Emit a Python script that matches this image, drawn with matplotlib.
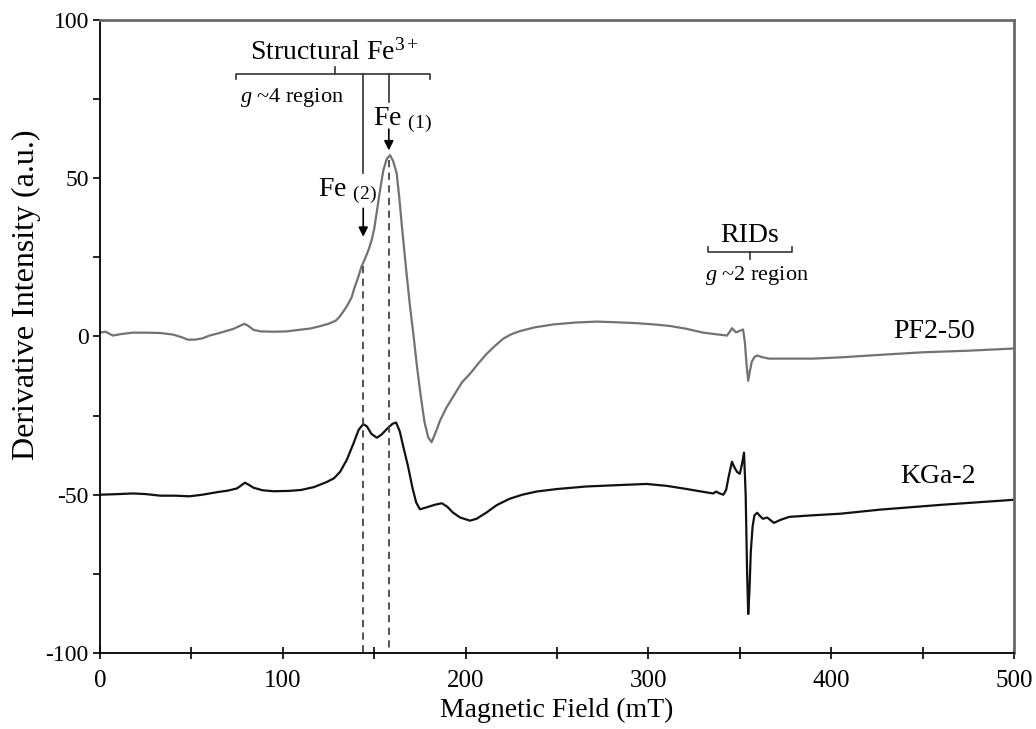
import numpy as np
import matplotlib
matplotlib.use('Agg')
import matplotlib.pyplot as plt

plt.rcParams['font.family'] = ['Liberation Serif', 'DejaVu Serif']
plt.rcParams['mathtext.fontset'] = 'custom'
plt.rcParams['mathtext.rm'] = 'Liberation Serif'
plt.rcParams['mathtext.it'] = 'Liberation Serif:italic'

# PF2-50 (grey) spectrum
pf_field = [0, 3, 7, 12, 18, 25, 33, 40, 45, 48, 52, 56, 60, 66, 73, 76, 79, 81, 84, 88,
            95, 102, 109, 115, 120, 125, 129, 131, 133, 135, 137.7, 139, 141.3, 143, 145,
            147, 148.6, 150, 151.3, 153.2, 155, 156.8, 158.6, 160.3, 162.3, 163.7, 165,
            167.7, 169.5, 171.4, 173.5, 175.5, 177.5, 179.5, 181.4, 183.5, 186, 189.5, 193,
            198, 202.4, 207, 211.5, 216, 220.6, 225, 229.7, 238, 248, 260, 271.7, 282,
            293.6, 303, 312, 321, 330, 337, 343, 344.5, 345.7, 347, 348, 350, 351.8, 352.8,
            353.7, 354.6, 355.5, 356.5, 358, 359.5, 362, 366, 375, 390, 405, 427, 450, 475,
            500]
pf_int = [1.2, 1.5, 0.3, 0.8, 1.2, 1.2, 1.1, 0.6, -0.3, -1.0, -1.0, -0.6, 0.3, 1.2, 2.4,
          3.2, 4.0, 3.4, 2.1, 1.6, 1.5, 1.6, 2.1, 2.5, 3.2, 4.0, 5.0, 6.2, 7.8, 9.5, 12.4,
          15, 18.8, 22, 24.6, 27.5, 30.4, 34, 38.9, 46.2, 52.5, 56, 57.3, 55.5, 51.6, 44,
          35.8, 19.9, 10, 0.9, -10, -19, -27, -31.8, -33.4, -30.5, -26.6, -22.5, -19.2,
          -14.5, -11.8, -8.5, -5.5, -3, -0.7, 0.7, 1.7, 2.9, 3.8, 4.4, 4.7, 4.5, 4.2, 3.8,
          3.3, 2.4, 1.2, 0.7, 0.3, 1.5, 2.6, 1.8, 1.3, 1.8, 2.2, -2, -9, -14, -11, -8,
          -6.5, -6, -6.5, -7, -7, -7, -6.6, -5.8, -5.0, -4.5, -3.8]

# KGa-2 (black) spectrum
kg_field = [0, 10, 18, 25, 33, 41, 49, 56, 64, 70, 75, 79.3, 81.5, 84, 89, 95, 103, 110,
            117, 124, 128, 131.3, 135, 138.6, 141.5, 144, 146, 148.5, 151.5, 154, 157, 160,
            162, 164, 166, 168.5, 171, 173, 175, 178.6, 183, 187, 190, 193, 197, 202.4, 206,
            211.5, 217, 224, 231, 238.8, 250, 266, 282, 299, 310, 321, 329, 335.5, 337, 339,
            341, 342.5, 344, 345.7, 347, 348.5, 350, 351.3, 352.3, 353.2, 354, 354.6, 355.3,
            356, 357, 358, 359.5, 361, 362.6, 365, 366.7, 368.7, 372, 377, 390, 405, 427,
            460, 500]
kg_int = [-50.0, -49.8, -49.6, -49.8, -50.3, -50.3, -50.5, -50.0, -49.2, -48.7, -48.0,
          -46.2, -46.9, -47.8, -48.6, -48.9, -48.8, -48.5, -47.6, -46, -44.8, -42.8, -39,
          -33.9, -29.5, -27.7, -28.4, -30.8, -32, -31, -29.2, -27.6, -27.2, -30, -35, -41,
          -48, -52.5, -54.6, -54, -53.2, -52.7, -53.8, -55.6, -57.2, -58.2, -57.6, -55.6,
          -53.3, -51.3, -50, -49, -48.2, -47.4, -47, -46.6, -47.2, -48.2, -49, -49.6, -49,
          -49.6, -50, -48.5, -44, -39.6, -41.3, -42.8, -43.4, -40, -36.7, -50, -75, -87.7,
          -80, -68, -60, -56.5, -55.7, -56.7, -57.6, -57.2, -58, -58.9, -58, -57, -56.5,
          -56, -54.7, -53.2, -51.6]

fe2_field = 144
fe1_field = 158

fig = plt.figure(figsize=(10.36, 7.29), dpi=100)
ax = fig.add_axes([0.0965, 0.1043, 0.8823, 0.8683])

ax.plot(pf_field, pf_int, color='#727272', lw=1.6, solid_joinstyle='round')
ax.plot(kg_field, kg_int, color='#111111', lw=1.6, solid_joinstyle='round')

# dashed guides from the grey curve down to the axis
for fx in (fe2_field, fe1_field):
    top = np.interp(fx, pf_field, pf_int)
    ax.plot([fx, fx], [top - 1, -100], color='#444444', lw=1.3, ls=(0, (4, 3)))

ax.set_xlim(0, 500)
ax.set_ylim(-100, 100)
ax.set_xticks(range(0, 501, 100))
ax.set_xticks(range(50, 500, 100), minor=True)
ax.set_yticks(range(-100, 101, 50))
ax.set_yticks(range(-75, 100, 50), minor=True)
ax.set_yticklabels(['-100', '-50', '0', '50', '100'])
ax.tick_params(axis='x', which='both', direction='inout', length=9, width=1.2, labelsize=18, pad=8)
ax.tick_params(axis='y', which='both', direction='out', length=5, width=1.2, labelsize=17, pad=3)

for s in ('left', 'bottom'):
    ax.spines[s].set_color('black')
    ax.spines[s].set_linewidth(1.3)
for s in ('top', 'right'):
    ax.spines[s].set_color('#6a6a6a')
    ax.spines[s].set_linewidth(2)

ax.set_xlabel('Magnetic Field (mT)', fontsize=20, labelpad=4)
ax.set_ylabel('Derivative Intensity (a.u.)', fontsize=23)
ax.yaxis.set_label_coords(-0.065, 0.566)

lc = '#333333'
# Structural Fe3+ bracket
ax.plot([74.4, 74.4, 180.5, 180.5], [81.5, 82.9, 82.9, 81.5], color=lc, lw=1.2)
ax.plot([128.3, 128.3], [82.9, 85.2], color=lc, lw=1.2)
ax.text(128.3, 85.6, 'Structural Fe$^{3+}$', fontsize=20, ha='center', va='bottom')
ax.text(76.5, 75.5, '$g$ ~4 region', fontsize=16, ha='left', va='center')

# Fe(2) arrow
ax.plot([fe2_field, fe2_field], [82.9, 51.5], color=lc, lw=1.2)
ax.text(119.3, 45.8, 'Fe $_{(2)}$', fontsize=20, ha='left', va='center')
ax.annotate('', xy=(fe2_field, 31.5), xytext=(fe2_field, 40.5),
            arrowprops=dict(arrowstyle='-|>', color='black', lw=1.2, mutation_scale=14,
                            shrinkA=0, shrinkB=0))
# Fe(1) arrow
ax.plot([fe1_field, fe1_field], [82.9, 74], color=lc, lw=1.2)
ax.text(149.3, 68.3, 'Fe $_{(1)}$', fontsize=20, ha='left', va='center')
ax.annotate('', xy=(fe1_field, 58.8), xytext=(fe1_field, 65.5),
            arrowprops=dict(arrowstyle='-|>', color='black', lw=1.2, mutation_scale=14,
                            shrinkA=0, shrinkB=0))

# RIDs bracket
ax.plot([332.6, 332.6, 378.6, 378.6], [28.2, 26.7, 26.7, 28.2], color=lc, lw=1.2)
ax.plot([355.6, 355.6], [26.7, 24.4], color=lc, lw=1.2)
ax.text(355.6, 27.8, 'RIDs', fontsize=20, ha='center', va='bottom')
ax.text(359.4, 19.3, '$g$ ~2 region', fontsize=16, ha='center', va='center')

ax.text(456, 1.6, 'PF2-50', fontsize=20, ha='center', va='center')
ax.text(458.5, -44.3, 'KGa-2', fontsize=20, ha='center', va='center')

fig.savefig('out.png', dpi=100)
